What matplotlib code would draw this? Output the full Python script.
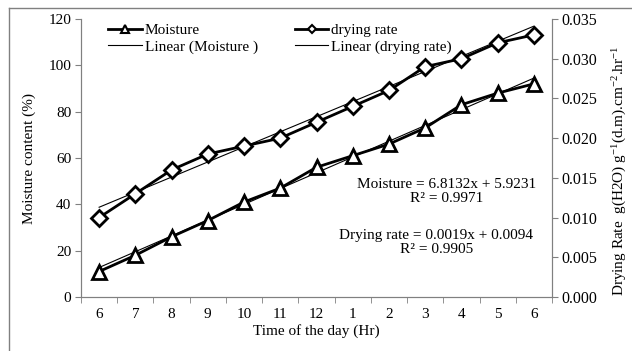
import matplotlib
matplotlib.use("Agg")
import matplotlib.pyplot as plt
import numpy as np
from matplotlib.lines import Line2D

plt.rcParams["font.family"] = ["Liberation Serif", "DejaVu Serif"]
plt.rcParams["font.size"] = 11
plt.rcParams["mathtext.fontset"] = "custom"
plt.rcParams["mathtext.rm"] = "Liberation Serif"
plt.rcParams["mathtext.it"] = "Liberation Serif:italic"

# time of day (categories) and measured series
hours = ["6", "7", "8", "9", "10", "11", "12", "1", "2", "3", "4", "5", "6"]
moisture = [11, 18, 26, 33, 41, 47, 56, 61, 66, 73, 83, 88, 92]
drying_rate = [0.010, 0.013, 0.016, 0.018, 0.019, 0.020, 0.022,
               0.024, 0.026, 0.029, 0.030, 0.032, 0.033]

# trendline coefficients as printed on the chart
moist_slope, moist_icpt = 6.8132, 5.9231
rate_slope, rate_icpt = 0.0019, 0.0094

fig = plt.figure(figsize=(6.32, 3.51), dpi=100)
ax = fig.add_axes([81 / 632, 1 - 297 / 351, 471 / 632, 278 / 351])
ax2 = ax.twinx()

x = np.arange(len(hours))
xn = x + 1

ax.plot(x, moisture, color="black", lw=2, marker="^", ms=10,
        mfc="white", mec="black", mew=2, zorder=3)
ax.plot(x, moist_slope * xn + moist_icpt, color="black", lw=0.8, zorder=2)
ax2.plot(x, drying_rate, color="black", lw=2, marker="D", ms=8,
         mfc="white", mec="black", mew=2, zorder=3)
ax2.plot(x, rate_slope * xn + rate_icpt, color="black", lw=0.8, zorder=2)

ax.set_xlim(-0.5, len(hours) - 0.5)
ax.set_ylim(0, 120)
ax.set_yticks(range(0, 121, 20))
ax2.set_ylim(0, 0.035)
ax2.set_yticks(np.arange(0, 0.0351, 0.005))
ax2.set_yticklabels([f"{v:.3f}" for v in np.arange(0, 0.0351, 0.005)],
                    fontsize=11.5)

ax.set_xticks(x)
ax.set_xticklabels(hours)
ax.set_xticks(np.arange(-0.5, len(hours)), minor=True)
ax.tick_params(axis="x", which="major", length=0, pad=8)
ax.tick_params(axis="x", which="minor", length=4, color="gray")
ax.tick_params(axis="y", length=4, color="gray", pad=3)
ax2.tick_params(axis="y", length=4, color="gray", pad=3)

for a in (ax, ax2):
    a.spines["top"].set_visible(False)
    for s in ("left", "right", "bottom"):
        a.spines[s].set_color("gray")

ax.set_ylabel("Moisture content (%)", labelpad=9)
ax.set_xlabel("Time of the day (Hr)", labelpad=2)
fig.text(620 / 632, 1 - 171 / 351,
         "Drying Rate  g(H2O) g$^{-1}$(d.m).cm$^{-2}$.hr$^{-1}$",
         rotation=90, ha="center", va="center", fontsize=11)

handles = [
    Line2D([], [], color="black", lw=2, marker="^", ms=6, mfc="white", mew=1.5),
    Line2D([], [], color="black", lw=0.8),
    Line2D([], [], color="black", lw=2, marker="D", ms=4, mfc="white", mew=1.5),
    Line2D([], [], color="black", lw=0.8),
]
labels = ["Moisture", "Linear (Moisture )", "drying rate", "Linear (drying rate)"]
ax.legend(handles, labels, ncol=2, frameon=False, loc="upper left",
          bbox_to_anchor=(0.045, 1.005), handlelength=2.2, handletextpad=0.2,
          columnspacing=2.4, labelspacing=0.15, borderaxespad=0)

ax.text(0.777, 0.378, f"Moisture = {moist_slope}x + {moist_icpt}\nR² = 0.9971",
        transform=ax.transAxes, ha="center", va="center", linespacing=1.1)
ax.text(0.754, 0.196, f"Drying rate = {rate_slope}x + {rate_icpt}\nR² = 0.9905",
        transform=ax.transAxes, ha="center", va="center", linespacing=1.1)

# outer chart-area border (top and left)
fig.add_artist(Line2D([9 / 632, 9 / 632], [0, 1 - 8 / 351], color="gray", lw=1))
fig.add_artist(Line2D([9 / 632, 1], [1 - 8 / 351, 1 - 8 / 351], color="gray", lw=1))

fig.savefig("out.png", dpi=100)
